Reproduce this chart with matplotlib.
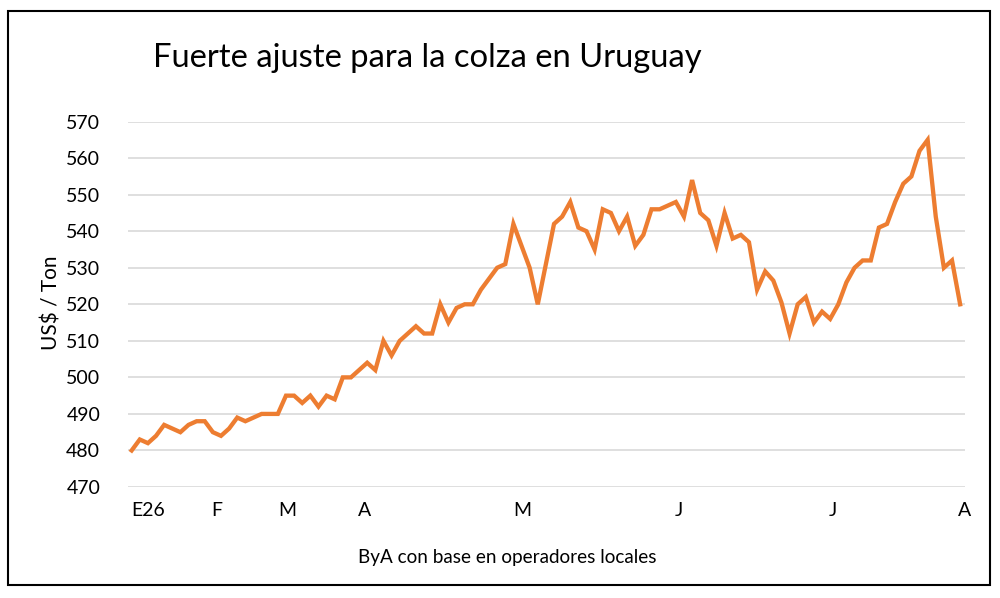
import matplotlib
matplotlib.use("Agg")
import matplotlib.pyplot as plt
from matplotlib.patches import Rectangle

prices = [480, 483, 482, 484, 487, 486, 485, 487, 488, 488,
          485, 484, 486, 489, 488, 489, 490, 490, 490, 495,
          495, 493, 495, 492, 495, 494, 500, 500, 502, 504,
          502, 510, 506, 510, 512, 514, 512, 512, 520, 515,
          519, 520, 520, 524, 527, 530, 531, 542, 536, 530,
          520, 531, 542, 544, 548, 541, 540, 535, 546, 545,
          540, 544, 536, 539, 546, 546, 547, 548, 544, 554,
          545, 543, 536, 545, 538, 539, 537, 524, 529, 526.5,
          520.5, 512, 520, 522, 515, 518, 516, 520, 526, 530,
          532, 532, 541, 542, 548, 553, 555, 562, 565, 544,
          530, 532, 520]
month_labels = ["E26", "F", "M", "A", "M", "J", "J", "A"]
month_pos = [2.0, 10.5, 19.2, 28.7, 48.1, 67.4, 86.3, 102.6]
y_ticks = [470, 480, 490, 500, 510, 520, 530, 540, 550, 560, 570]

plt.rcParams['font.family'] = ['Lato', 'DejaVu Sans']

fig = plt.figure(figsize=(10, 5.98), dpi=100)
fig.patches.append(Rectangle((0.008, 1 - 585 / 598), 0.982, (585 - 11) / 598,
                             transform=fig.transFigure, fill=False,
                             edgecolor='black', linewidth=1.5))

ax = fig.add_axes([0.128, 1 - 487 / 598, 0.837, (487 - 121.6) / 598])
x = list(range(len(prices)))
ax.plot(x, prices, color='#ED7D31', linewidth=3.1, solid_joinstyle='miter')

ax.set_ylim(470, 570)
ax.set_xlim(-0.45, 102.35)
ax.set_yticks(y_ticks)
ax.set_yticklabels([str(v) for v in y_ticks], fontsize=14, color='#000000')
ax.set_xticks(month_pos)
ax.set_xticklabels(month_labels, fontsize=14)
ax.tick_params(axis='both', length=0)
ax.tick_params(axis='y', pad=20)
ax.tick_params(axis='x', pad=11)
ax.grid(axis='y', color='#D9D9D9', linewidth=1.2)
ax.set_axisbelow(True)
for s in ax.spines.values():
    s.set_visible(False)

fig.text(0.052, 1 - 303 / 598, "US$ / Ton", fontsize=15, rotation=90,
         ha='center', va='center')
fig.text(0.153, 1 - 58 / 598, "Fuerte ajuste para la colza en Uruguay",
         fontsize=23.6, ha='left', va='center')
fig.text(0.507, 1 - 557 / 598, "ByA con base en operadores locales",
         fontsize=13.6, ha='center', va='center')

fig.savefig("out.png", dpi=100)
